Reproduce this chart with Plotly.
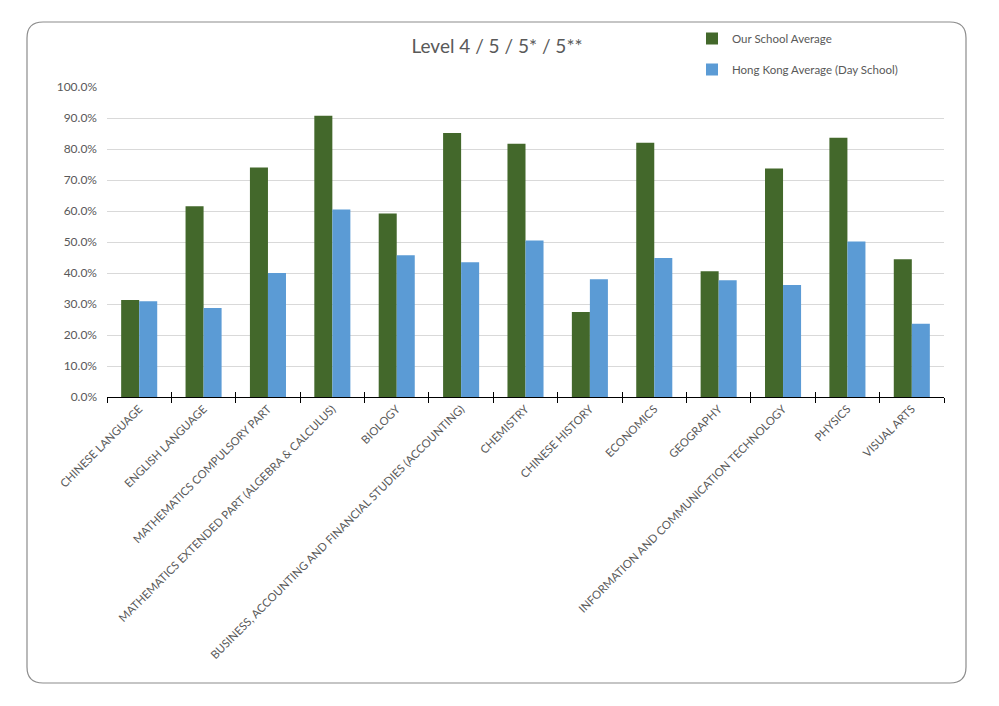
import plotly.graph_objects as go

subjects = [
    "CHINESE LANGUAGE", "ENGLISH LANGUAGE", "MATHEMATICS COMPULSORY PART",
    "MATHEMATICS EXTENDED PART (ALGEBRA & CALCULUS)", "BIOLOGY",
    "BUSINESS, ACCOUNTING AND FINANCIAL STUDIES (ACCOUNTING)", "CHEMISTRY",
    "CHINESE HISTORY", "ECONOMICS", "GEOGRAPHY",
    "INFORMATION AND COMMUNICATION TECHNOLOGY", "PHYSICS", "VISUAL ARTS",
]
school_avg = [0.313, 0.615, 0.740, 0.907, 0.592, 0.852, 0.817, 0.274, 0.820, 0.406, 0.737, 0.836, 0.444]
hk_avg = [0.309, 0.287, 0.400, 0.605, 0.457, 0.435, 0.505, 0.380, 0.448, 0.377, 0.361, 0.502, 0.236]

GREEN = "#43682B"
BLUE = "#5B9BD5"
GREY = "#595959"
FONT = "Lato"

W, H = 999, 706
OFF = 8  # page body margin
L, R, T, B = 107 - OFF, 944 - OFF, 87 - OFF, 397 - OFF  # plot area in figure pixels


def px(x, y):
    # page pixel position -> paper coords
    return (x - OFF - L) / (R - L), (B - (y - OFF)) / (B - T)


def P(x, y):
    a, b = px(x, y)
    return f"{a:.5f},{b:.5f}"


fig = go.Figure()
fig.add_trace(go.Bar(x=subjects, y=school_avg, name="Our School Average",
                     marker=dict(color=GREEN, line=dict(width=0)), legendgroup="a"))
fig.add_trace(go.Bar(x=subjects, y=hk_avg, name="Hong Kong Average (Day School)",
                     marker=dict(color=BLUE, line=dict(width=0)), legendgroup="b"))

# rounded outer border
x0, y0, x1, y1, r = 27, 22, 966, 683, 16
path = (f"M {P(x0 + r, y0)} L {P(x1 - r, y0)} Q {P(x1, y0)} {P(x1, y0 + r)} "
        f"L {P(x1, y1 - r)} Q {P(x1, y1)} {P(x1 - r, y1)} "
        f"L {P(x0 + r, y1)} Q {P(x0, y1)} {P(x0, y1 - r)} "
        f"L {P(x0, y0 + r)} Q {P(x0, y0)} {P(x0 + r, y0)} Z")
fig.add_shape(type="path", path=path, xref="paper", yref="paper",
              line=dict(color="#8C8C8C", width=1.2), layer="below")

n = len(subjects)
fig.update_layout(
    width=W, height=H,
    margin=dict(l=L, r=W - R, t=T, b=H - B),
    paper_bgcolor="white", plot_bgcolor="white",
    font=dict(family=FONT, color=GREY, size=11),
    title=dict(text="Level 4 / 5 / 5* / 5**", x=(497 - OFF) / W, xanchor="center",
               y=1 - (46 - OFF) / H, yanchor="middle",
               font=dict(size=19, color=GREY, family=FONT)),
    barmode="group", bargap=0.44, bargroupgap=0,
    legend=dict(x=px(692, 0)[0], y=px(0, 24)[1], xanchor="left", yanchor="top",
                tracegroupgap=12, itemwidth=30, font=dict(size=11.5, color=GREY),
                bgcolor="rgba(0,0,0,0)"),
    xaxis=dict(type="category", tickangle=-45, showgrid=False,
               showline=True, linecolor="black", linewidth=1.2,
               ticks="outside", ticklen=5, tickcolor="black",
               tickson="boundaries", range=[-0.5, n - 0.5],
               tickfont=dict(size=11.3, color=GREY)),
    xaxis2=dict(overlaying="x", range=[-0.5, n - 0.5],
                tickvals=[i - 0.5 for i in range(n + 1)], ticks="inside",
                ticklen=5, tickcolor="black", showticklabels=False,
                showgrid=False, zeroline=False, side="bottom"),
    yaxis=dict(range=[0, 1.0], dtick=0.1, tickformat=".1%",
               gridcolor="#D9D9D9", gridwidth=1, zeroline=False,
               showline=False, ticks="", ticklabelstandoff=9,
               tickfont=dict(size=12, color=GREY)),
)
fig.add_trace(go.Scatter(x=[None], y=[None], xaxis="x2", showlegend=False,
                         hoverinfo="skip"))

fig.write_html("out.html")
